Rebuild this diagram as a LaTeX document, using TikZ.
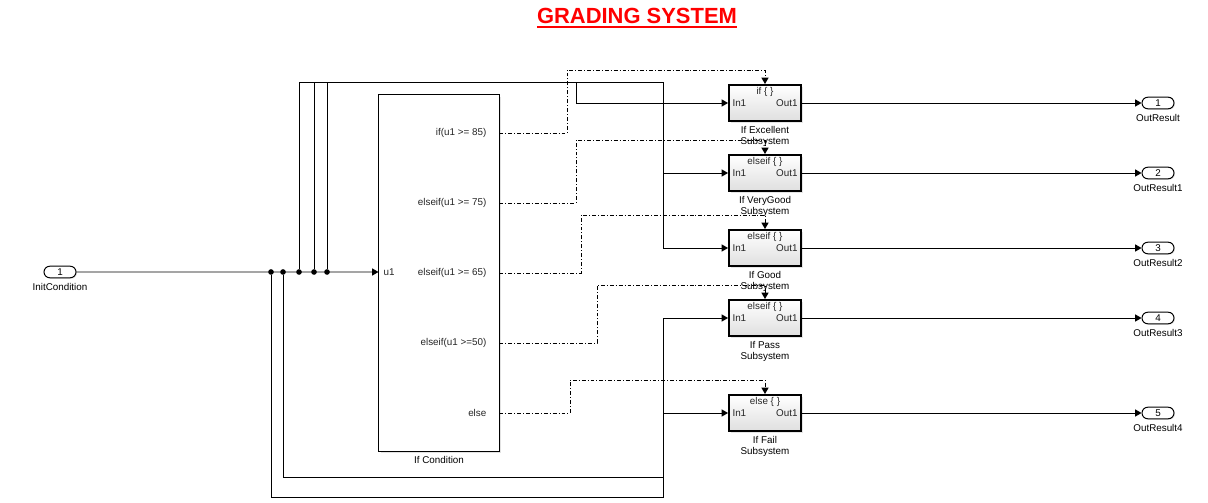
\documentclass[tikz,border=0pt]{standalone}
\usepackage{fontspec}
\setmainfont{Liberation Sans}
\usetikzlibrary{arrows.meta,positioning,shapes.misc,shadows}

\begin{document}
\begin{tikzpicture}[
			x=0.025cm, y=-0.025cm,
			every node/.style={font=\fontsize{7}{8}\selectfont},
			wire/.style={line width=0.7pt},
			sig/.style={
				wire,
				-{Triangle[length=4.5pt,width=5pt]}
			},
			trig/.style={
				sig,
				dash pattern=on 2.8pt off 1.4pt on 0.7pt off 1.4pt
			},
			port/.style={
				draw,
				rounded rectangle,
				line width=0.7pt,
				fill=white,
				minimum width=0.8cm,
				minimum height=0.29cm,
				inner sep=0pt,
				drop shadow={shadow xshift=0.7pt,shadow yshift=-0.7pt,fill=gray!40}
			},
			ifblock/.style={
				draw,
				line width=0.7pt,
				fill=white,
				minimum width=3cm,
				minimum height=8.9cm,
				drop shadow={shadow xshift=1.4pt,shadow yshift=-1.4pt,fill=gray!45}
			},
			subsys/.style={
				draw,
				line width=1.4pt,
				top color=white,
				bottom color=gray!25,
				minimum width=1.8cm,
				minimum height=0.9cm,
				drop shadow={shadow xshift=1.2pt,shadow yshift=-1.2pt,fill=gray!40}
			},
			tag/.style={inner sep=1pt, text=black!85},
			caption/.style={align=center, inner sep=1pt},
			dot/.style={circle, fill, inner sep=0pt, minimum size=4pt}
		]
			\useasboundingbox (0,0) rectangle (1208,503);
			
			\node[font=\fontsize{15.6}{18}\selectfont\bfseries, text=red, inner sep=0pt, anchor=base] (title) at (637,23.5) {GRADING SYSTEM};
			\draw[red, line width=1.4pt] ([yshift=-2.5pt]title.base west) -- ([yshift=-2.5pt]title.base east);
			
			\node[port] (init) at (60,272) {1};
			\node[caption, below=2.5pt of init] (initlbl) {InitCondition};
			
			\node[ifblock] (ifc) at (439,273) {};
			\node[caption, below=2pt of ifc] (iflbl) {If Condition};
			\node[tag, anchor=west] (u1) at (382,272) {u1};
			\node[tag, anchor=east] (c1) at (488,133) {if(u1 >= 85)};
			\node[tag, anchor=east] (c2) at (488,203) {elseif(u1 >= 75)};
			\node[tag, anchor=east] (c3) at (488,273) {elseif(u1 >= 65)};
			\node[tag, anchor=east] (c4) at (488,343) {elseif(u1 >=50)};
			\node[tag, anchor=east] (c5) at (488,413) {else};
			
			\node[subsys] (exc) at (765,103) {};
			\node[subsys] (vgood) at (765,173) {};
			\node[subsys] (good) at (765,248) {};
			\node[subsys] (pass) at (765,318) {};
			\node[subsys] (fail) at (765,413) {};
			\foreach \blk/\kw/\nm in {exc/if/Excellent, vgood/elseif/VeryGood, good/elseif/Good, pass/elseif/Pass, fail/else/Fail}{
				\node[tag, anchor=north, yshift=-1.5pt] (\blk kw) at (\blk.north) {\kw\ \{ \}};
				\node[tag, anchor=west, xshift=2pt] (\blk in) at (\blk.west) {In1};
				\node[tag, anchor=east, xshift=-2pt] (\blk out) at (\blk.east) {Out1};
				\node[caption, below=2pt of \blk] (\blk lbl) {If \nm\\Subsystem};
			}
			
			\node[port] (out1) at (1158,103) {1};
			\node[port] (out2) at (1158,173) {2};
			\node[port] (out3) at (1158,248) {3};
			\node[port] (out4) at (1158,318) {4};
			\node[port] (out5) at (1158,413) {5};
			\node[caption, below=2.5pt of out1] (out1lbl) {OutResult};
			\node[caption, below=2.5pt of out2] (out2lbl) {OutResult1};
			\node[caption, below=2.5pt of out3] (out3lbl) {OutResult2};
			\node[caption, below=2.5pt of out4] (out4lbl) {OutResult3};
			\node[caption, below=2.5pt of out5] (out5lbl) {OutResult4};
			
			\node[dot] (j1) at (271,272) {};
			\node[dot] (j2) at (283,272) {};
			\node[dot] (j3) at (299,272) {};
			\node[dot] (j4) at (314,272) {};
			\node[dot] (j5) at (327,272) {};
			
			\coordinate (tapA) at (576,82);
			\coordinate (bus) at (663,82);
			\coordinate (botA) at (663,497);
			\coordinate (botB) at (663,477);
			\coordinate (t1) at (567,70);
			\coordinate (t2) at (576,140);
			\coordinate (t3) at (581,215);
			\coordinate (t4) at (597,285);
			\coordinate (t5) at (570,380);
			
			\draw[sig] (init) -- (ifc.west |- init);
			\draw[sig] (j3) |- (tapA) |- (exc.west);
			\draw[sig] (j4) |- (bus) |- (vgood.west);
			\draw[sig] (j5) |- (bus) |- (good.west);
			\draw[sig] (j1) |- (botA) |- (pass.west);
			\draw[sig] (j2) |- (botB) |- (fail.west);
			
			\draw[trig] (ifc.east |- c1) -| (t1) -| (exc.north);
			\draw[trig] (ifc.east |- c2) -| (t2) -| (vgood.north);
			\draw[trig] (ifc.east |- c3) -| (t3) -| (good.north);
			\draw[trig] (ifc.east |- c4) -| (t4) -| (pass.north);
			\draw[trig] (ifc.east |- c5) -| (t5) -| (fail.north);
			
			\draw[sig] (exc.east) -- (out1.west);
			\draw[sig] (vgood.east) -- (out2.west);
			\draw[sig] (good.east) -- (out3.west);
			\draw[sig] (pass.east) -- (out4.west);
			\draw[sig] (fail.east) -- (out5.west);
			
		\end{tikzpicture}
\end{document}
